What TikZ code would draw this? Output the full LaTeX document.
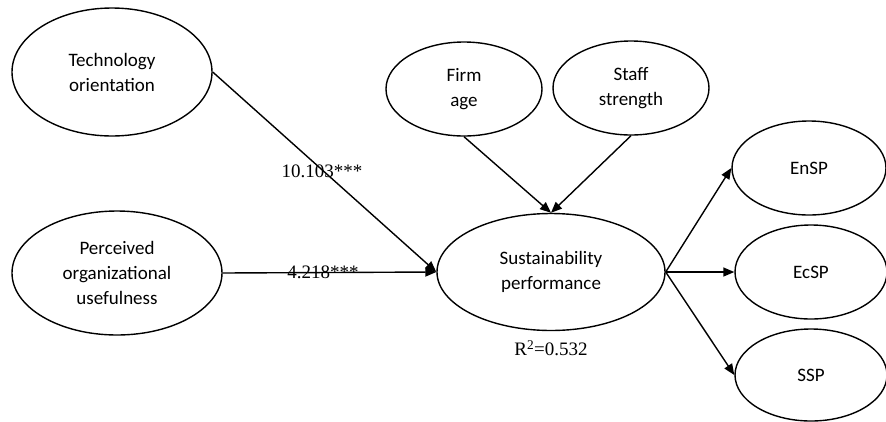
\documentclass[tikz,border=0pt]{standalone}
\usepackage{fontspec}
\setmainfont{Liberation Serif}
\newfontfamily\calibri{Carlito}
\usetikzlibrary{shapes.geometric,arrows.meta}
\begin{document}
\begin{tikzpicture}[x=1pt,y=-1pt,
	    latent/.style={ellipse,draw,line width=1.4pt,inner sep=0pt,align=center,font=\calibri\fontsize{19}{25}\selectfont},
	    path/.style={line width=1.4pt,-{Triangle[length=11pt,width=9pt]}},
	    coef/.style={font=\fontsize{19}{22}\selectfont,inner sep=0pt}]
	    \useasboundingbox (0,0) rectangle (886,421);
	    \node[latent,minimum width=200pt,minimum height=128pt] (tech) at (112,72) {Technology\\orientation};
	    \node[latent,minimum width=210pt,minimum height=124pt] (perc) at (117,273) {Perceived\\organizational\\usefulness};
	    \node[latent,minimum width=156pt,minimum height=94pt] (firm) at (464,89) {Firm\\age};
	    \node[latent,minimum width=156pt,minimum height=94pt] (staff) at (631,88) {Staff\\strength};
	    \node[latent,minimum width=228pt,minimum height=117pt] (sust) at (551,272) {Sustainability\\performance};
	    \node[latent,minimum width=154pt,minimum height=94pt] (ensp) at (809,168) {EnSP};
	    \node[latent,minimum width=152pt,minimum height=94pt] (ecsp) at (811,272) {EcSP};
	    \node[latent,minimum width=152pt,minimum height=92pt] (ssp) at (811,375) {SSP};
	    \draw[path] (tech.east)--(sust.west);
	    \draw[path] (perc.east)--(sust.west);
	    \draw[path] (firm.south)--(sust.north);
	    \draw[path] (staff.south)--(sust.north);
	    \draw[path] (sust.east)--(ensp.west);
	    \draw[path] (sust.east)--(ecsp.west);
	    \draw[path] (sust.east)--(ssp.west);
	    \node[coef] (b1) at (322,171) {10.103***};
	    \node[coef] (b2) at (323,272) {4.218***};
	    \node[coef] (r2) at (551,348) {R\textsuperscript{2}=0.532};
	\end{tikzpicture}
\end{document}
